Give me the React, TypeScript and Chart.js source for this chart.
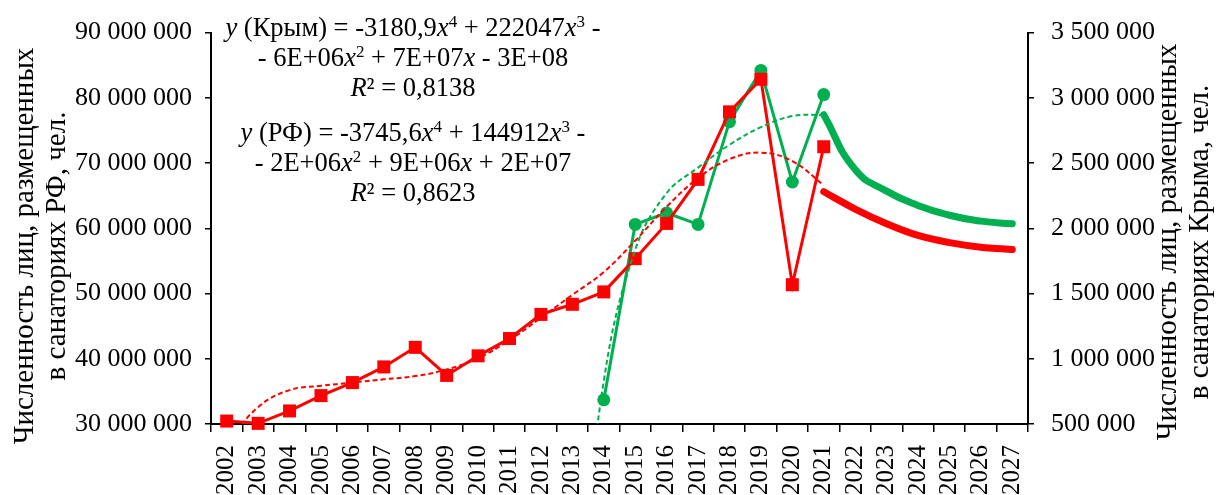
import React, { useEffect, useRef } from 'react';
import { Chart, registerables } from 'chart.js';

Chart.register(...registerables);

const years = ['2002','2003','2004','2005','2006','2007','2008','2009','2010','2011','2012','2013','2014','2015','2016','2017','2018','2019','2020','2021','2022','2023','2024','2025','2026','2027'];

const rfActual = [30.45e6, 30.1e6, 32.0e6, 34.35e6, 36.35e6, 38.75e6, 41.75e6, 37.45e6, 40.45e6, 43.1e6, 46.8e6, 48.35e6, 50.25e6, 55.35e6, 60.75e6, 67.5e6, 77.85e6, 82.85e6, 51.35e6, 72.5e6, null, null, null, null, null, null];

const crimeaActual = [null, null, null, null, null, null, null, null, null, null, null, null, 685000, 2030000, 2117500, 2030000, 2817500, 3210000, 2355000, 3025000, null, null, null, null, null, null];

const rfTrend = [27.0e6, 32.6e6, 35.2e6, 35.85e6, 36.35e6, 36.85e6, 37.35e6, 38.35e6, 40.1e6, 42.85e6, 46.3e6, 49.8e6, 53.3e6, 58.1e6, 63.3e6, 67.7e6, 70.6e6, 71.6e6, 70.3e6, 66.6e6, null, null, null, null, null, null];

const crimeaTrend = [null, null, null, null, null, null, null, null, null, null, null, -1300000, 830000, 1835000, 2270000, 2465000, 2640000, 2775000, 2860000, 2870000, null, null, null, null, null, null];

const rfForecast = [null, null, null, null, null, null, null, null, null, null, null, null, null, null, null, null, null, null, null, 65.6e6, 62.95e6, 60.7e6, 58.9e6, 57.8e6, 57.1e6, 56.75e6];

const crimeaForecast = [null, null, null, null, null, null, null, null, null, null, null, null, null, null, null, null, null, null, null, 2870000, 2450000, 2285000, 2175000, 2100000, 2055000, 2035000];

const leftTickLabels = ['30 000 000', '40 000 000', '50 000 000', '60 000 000', '70 000 000', '80 000 000', '90 000 000'];
const rightTickLabels = ['500 000', '1 000 000', '1 500 000', '2 000 000', '2 500 000', '3 000 000', '3 500 000'];

const leftTitle = ['Численность лиц, размещенных', 'в санаториях РФ, чел.'];
const rightTitle = ['Численность лиц, размещенных', 'в санаториях Крыма, чел.'];

const RED = '#FF0000';
const GREEN = '#00B050';
const FONT = '"Liberation Serif", "Times New Roman", serif';

const titlePlugin = {
  id: 'axisTitles',
  afterDraw(chart: any) {
    const ctx = chart.ctx;
    ctx.save();
    ctx.fillStyle = '#000';
    ctx.font = '29px ' + FONT;
    ctx.textAlign = 'center';
    ctx.textBaseline = 'middle';
    const draw = (lines: string[], xs: number[], cy: number) => {
      lines.forEach((t, i) => {
        ctx.save();
        ctx.translate(xs[i], cy);
        ctx.rotate(-Math.PI / 2);
        ctx.fillText(t, 0, 0);
        ctx.restore();
      });
    };
    draw(leftTitle, [25, 57], 246);
    draw(rightTitle, [1168, 1200], 242);
    ctx.restore();
  },
};

const supStyle: React.CSSProperties = { fontSize: '17px', lineHeight: 0, verticalAlign: '0.55em' };

export default function App() {
  const ref = useRef<HTMLCanvasElement | null>(null);
  useEffect(() => {
    if (!ref.current) return;
    Chart.defaults.font.family = FONT;
    const chart = new Chart(ref.current, {
      type: 'line',
      data: {
        labels: years,
        datasets: [
          { data: rfTrend, yAxisID: 'y', borderColor: RED, borderWidth: 2, borderDash: [5, 3], pointRadius: 0, tension: 0.4, clip: 0 as any },
          { data: crimeaTrend, yAxisID: 'y1', borderColor: GREEN, borderWidth: 2, borderDash: [5, 3], pointRadius: 0, tension: 0.4, clip: 0 as any },
          { data: rfForecast, yAxisID: 'y', borderColor: RED, borderWidth: 7, pointRadius: 0, cubicInterpolationMode: 'monotone', borderCapStyle: 'round', clip: false as any },
          { data: crimeaForecast, yAxisID: 'y1', borderColor: GREEN, borderWidth: 7, pointRadius: 0, tension: 0.5, borderCapStyle: 'round', clip: false as any },
          { data: rfActual, yAxisID: 'y', borderColor: RED, backgroundColor: RED, borderWidth: 3, pointStyle: 'rect', pointRadius: 9.2, pointBorderWidth: 0, tension: 0, clip: false as any },
          { data: crimeaActual, yAxisID: 'y1', borderColor: GREEN, backgroundColor: GREEN, borderWidth: 3, pointStyle: 'circle', pointRadius: 6.5, pointBorderWidth: 0, tension: 0, clip: false as any },
        ],
      },
      options: {
        animation: false,
        responsive: true,
        maintainAspectRatio: false,
        layout: { padding: { top: 24, left: 0, right: 0, bottom: 0 } },
        plugins: { legend: { display: false }, tooltip: { enabled: false } },
        scales: {
          x: {
            type: 'category',
            offset: true,
            grid: { offset: true, drawOnChartArea: false, drawTicks: true, tickLength: 8, color: '#000', lineWidth: 1.5 },
            border: { color: '#000', width: 2 },
            ticks: { color: '#000', font: { size: 25 }, minRotation: 90, maxRotation: 90, autoSkip: false, padding: 13 },
            afterFit: (s: any) => { s.height = 71; },
          },
          y: {
            position: 'left',
            min: 30e6,
            max: 90e6,
            grid: { drawOnChartArea: false, drawTicks: true, tickLength: 6, color: '#000', lineWidth: 1.5 },
            border: { color: '#000', width: 2 },
            ticks: { stepSize: 10e6, color: '#000', font: { size: 26 }, padding: 13, callback: (_v: any, i: number) => leftTickLabels[i] },
            afterFit: (s: any) => { s.width = 211; },
          },
          y1: {
            position: 'right',
            min: 500000,
            max: 3500000,
            grid: { drawOnChartArea: false, drawTicks: true, tickLength: 6, color: '#000', lineWidth: 1.5 },
            border: { color: '#000', width: 2 },
            ticks: { stepSize: 500000, color: '#000', font: { size: 26 }, padding: 17, callback: (_v: any, i: number) => rightTickLabels[i] },
            afterFit: (s: any) => { s.width = 189; },
          },
        },
      },
      plugins: [titlePlugin],
    } as any);
    return () => chart.destroy();
  }, []);

  const blockStyle: React.CSSProperties = {
    position: 'absolute', left: 213, width: 400, textAlign: 'center',
    fontFamily: FONT, fontSize: '26.5px', lineHeight: '30px', color: '#000', whiteSpace: 'nowrap',
  };

  return (
    <div style={{ position: 'fixed', left: 0, top: 0, width: 1217, height: 495, background: '#fff' }}>
      <canvas ref={ref} />
      <div style={{ ...blockStyle, top: 12 }}>
        <div><i>y</i> (Крым) = -3180,9<i>x</i><sup style={supStyle}>4</sup> + 222047<i>x</i><sup style={supStyle}>3</sup> -</div>
        <div>- 6E+06<i>x</i><sup style={supStyle}>2</sup> + 7E+07<i>x</i> - 3E+08</div>
        <div><i>R</i>² = 0,8138</div>
      </div>
      <div style={{ ...blockStyle, top: 117 }}>
        <div><i>y</i> (РФ) = -3745,6<i>x</i><sup style={supStyle}>4</sup> + 144912<i>x</i><sup style={supStyle}>3</sup> -</div>
        <div>- 2E+06<i>x</i><sup style={supStyle}>2</sup> + 9E+06<i>x</i> + 2E+07</div>
        <div><i>R</i>² = 0,8623</div>
      </div>
    </div>
  );
}
